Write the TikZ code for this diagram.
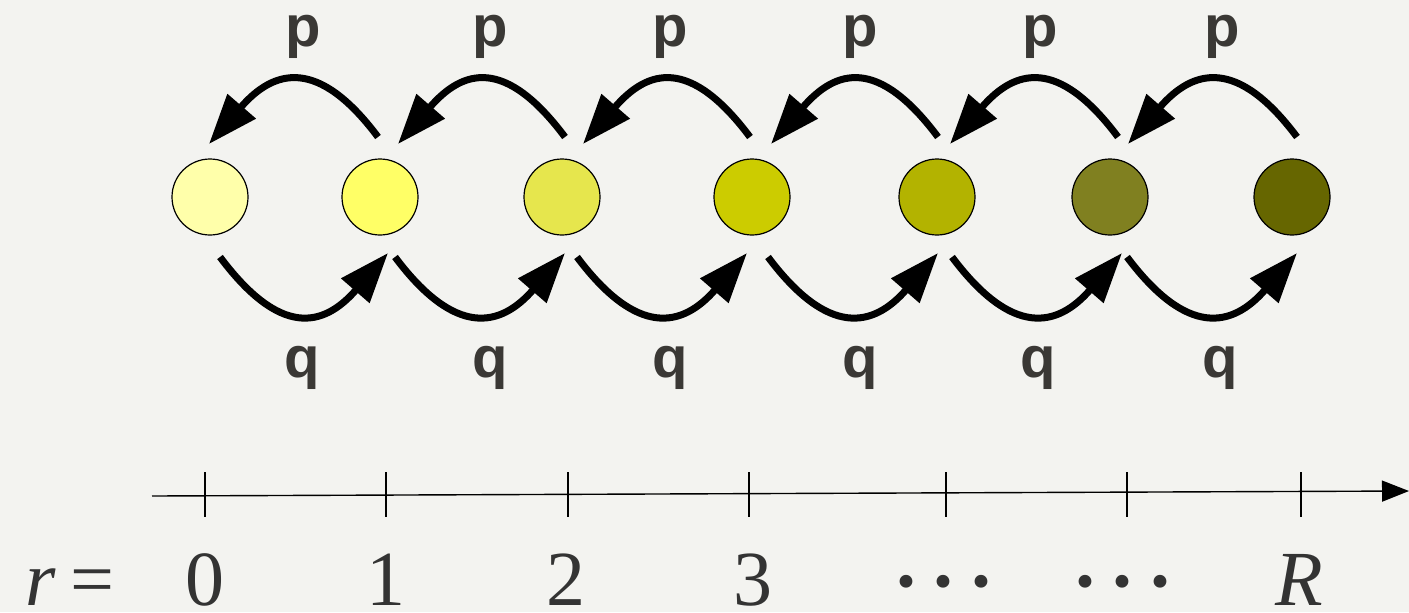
\documentclass[tikz,border=0pt]{standalone}
\usepackage{fontspec}
\setmainfont{LiberationSerif}[Extension=.ttf,UprightFont=*-Regular,ItalicFont=*-Italic,BoldFont=*-Bold,BoldItalicFont=*-BoldItalic]
\newfontfamily\ratefont{LiberationSans}[Extension=.ttf,UprightFont=*-Regular,BoldFont=*-Bold]
\usetikzlibrary{arrows.meta}
\definecolor{paper}{HTML}{F3F3F0}
\definecolor{ink}{HTML}{3A3835}
\definecolor{axisink}{HTML}{333333}
\definecolor{s0}{RGB}{255,255,170}
\definecolor{s1}{RGB}{255,255,102}
\definecolor{s2}{RGB}{230,230,77}
\definecolor{s3}{RGB}{204,204,0}
\definecolor{s4}{RGB}{179,179,0}
\definecolor{s5}{RGB}{128,128,32}
\definecolor{s6}{RGB}{102,102,0}
% a centred dot for the ellipsis labels
\newcommand{\middot}{{\fontsize{54}{54}\selectfont\raisebox{-6pt}{·}}}
\begin{document}
\begin{tikzpicture}[x=0.5pt,y=-0.5pt,
  state/.style={circle,draw=black,line width=0.6pt,minimum size=38pt,inner sep=0pt},
  jump/.style={line width=3.5pt,-{Triangle[length=25pt,width=18pt]}},
  rate/.style={font=\ratefont\bfseries\fontsize{29}{29}\selectfont,text=ink,anchor=base,inner sep=0pt},
  ticker/.style={line width=0.7pt,draw=black},
  axislabel/.style={font=\fontsize{39}{39}\selectfont,text=axisink,anchor=base,inner sep=0pt,text depth=0pt}]
% canvas
\fill[paper] (0,0) rectangle (1409,612);
\useasboundingbox (0,0) rectangle (1409,612);

% states
\node[state,fill=s0] (c0) at (210,197) {};
\node[state,fill=s1] (c1) at (380,197) {};
\node[state,fill=s2] (c2) at (562,197) {};
\node[state,fill=s3] (c3) at (752,197) {};
\node[state,fill=s4] (c4) at (937,197) {};
\node[state,fill=s5] (c5) at (1110,197) {};
\node[state,fill=s6] (c6) at (1292,197) {};

% backward jumps (rate p), drawn above the states
\foreach \s/\t [count=\i] in {378/209,565/398,750/583,938/771,1118/950,1297/1128}{
  \coordinate (pa\i) at (\s,137);
  \coordinate (pb\i) at (\t,144);
  \draw[jump] (pa\i) .. controls +(-60,-80) and +(65,-75) .. (pb\i);
}
% forward jumps (rate q), drawn below the states
\foreach \s/\t [count=\i] in {220/388,395/565,577/747,768/938,952/1122,1127/1297}{
  \coordinate (qa\i) at (\s,257);
  \coordinate (qb\i) at (\t,253);
  \draw[jump] (qa\i) .. controls +(60,80) and +(-65,75) .. (qb\i);
}

% rate labels
\foreach \x [count=\i] in {303,490,670,860,1040,1222}
  \node[rate] (p\i) at (\x,46) {p};
\foreach \x [count=\i] in {302,490,670,860,1038,1220}
  \node[rate] (q\i) at (\x,377) {q};

% axis
\coordinate (axstart) at (152,496);
\coordinate (axend) at (1409,491);
\draw[line width=0.7pt,-{Triangle[length=13.5pt,width=10.5pt]}] (axstart) -- (axend);
\foreach \x in {205,386,568,749,946,1127,1301}
  \draw[ticker] (\x,472) -- (\x,517);

% axis labels
\node[axislabel] (rlab) at (70,605) {\textit{r}\kern7pt=};
\node[axislabel] (l0) at (205,605) {0};
\node[axislabel] (l1) at (386,605) {1};
\node[axislabel] (l2) at (566,605) {2};
\node[axislabel] (l3) at (753,605) {3};
\node[axislabel] (l4) at (944,605) {\middot\kern1pt\middot\kern1pt\middot};
\node[axislabel] (l5) at (1123,605) {\middot\kern1pt\middot\kern1pt\middot};
\node[axislabel] (l6) at (1299,605) {\textit{R}};
\end{tikzpicture}
\end{document}
